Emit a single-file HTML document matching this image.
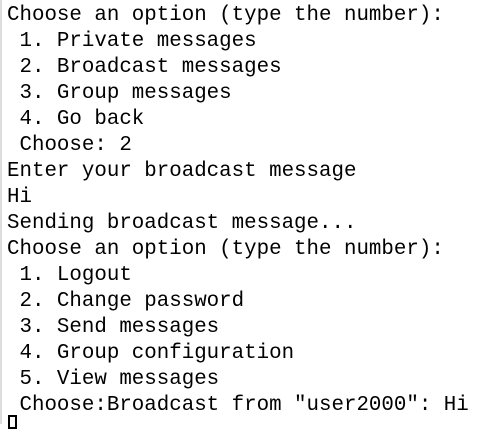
<!DOCTYPE html>
<html><head><style>
html,body{margin:0;padding:0;background:#fff;width:490px;height:424px;overflow:hidden}
.l{position:absolute;left:0;top:0;width:2px;height:424px;background:#ddd}
pre{position:absolute;left:7px;top:3px;margin:0;font-family:"Liberation Mono",monospace;font-size:20.8px;line-height:26px;color:#000}
.c{position:absolute;left:8px;top:415px;width:9px;height:14px;border:2px solid #000;box-sizing:border-box}
</style></head><body>
<div class="l"></div>
<pre>Choose an option (type the number):
 1. Private messages
 2. Broadcast messages
 3. Group messages
 4. Go back
 Choose: 2
Enter your broadcast message
Hi
Sending broadcast message...
Choose an option (type the number):
 1. Logout
 2. Change password
 3. Send messages
 4. Group configuration
 5. View messages
 Choose:Broadcast from "user2000": Hi</pre>
<div class="c"></div>
</body></html>
